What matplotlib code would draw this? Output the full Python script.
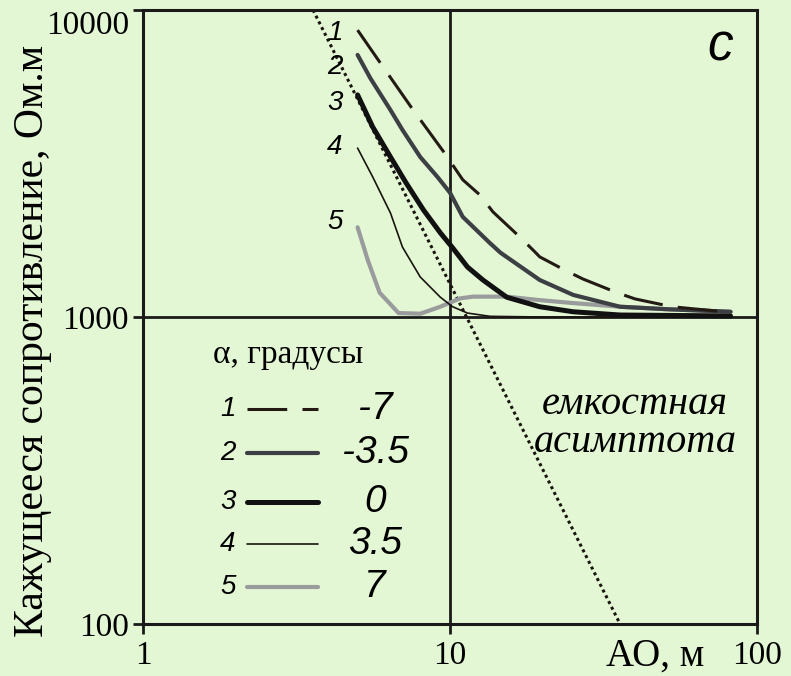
import matplotlib
matplotlib.use("Agg")
import matplotlib.pyplot as plt

# кривые кажущегося сопротивления для разных углов alpha
ao_1 = [5.0, 5.9, 7.5, 9.6, 11.0, 12.5, 13.8, 16.9, 18.9, 19.6, 23.7, 27.1, 35.0, 40.1, 52.9, 82]
rho_1 = [8600, 6770, 4800, 3420, 2800, 2500, 2200, 1820, 1630, 1570, 1420, 1330, 1200, 1145, 1080, 1035]

ao_2 = [5.0, 5.5, 6.4, 7.0, 8.0, 9.1, 10.0, 11.0, 13.5, 14.6, 19.6, 25.2, 35.8, 50.9, 82]
rho_2 = [7140, 6000, 4720, 4070, 3320, 2860, 2540, 2120, 1740, 1620, 1320, 1180, 1080, 1060, 1040]

ao_3 = [5.0, 5.6, 6.4, 7.2, 8.2, 9.3, 10.2, 11.4, 12.8, 15.3, 19.6, 25.2, 35.8, 82]
rho_3 = [5290, 4160, 3320, 2730, 2230, 1880, 1680, 1455, 1320, 1160, 1080, 1040, 1015, 1008]

ao_4 = [5.0, 5.6, 6.4, 7.0, 8.0, 9.3, 10.2, 11.4, 13.5, 20, 82]
rho_4 = [3550, 2860, 2180, 1690, 1350, 1160, 1080, 1030, 1005, 1000, 1000]

ao_5 = [5.0, 5.4, 5.9, 6.8, 8.0, 9.3, 10.8, 11.9, 15.3, 19.6, 25.2, 35.8, 50.9, 82]
rho_5 = [1960, 1530, 1200, 1030, 1025, 1080, 1150, 1165, 1165, 1135, 1110, 1080, 1060, 1040]

# емкостная асимптота (прямая в двойном логарифмическом масштабе)
asym_ao = [3.58, 35.8]
asym_rho = [10000, 100]

curve_ids = ["1", "2", "3", "4", "5"]
alpha_labels = ["-7", "-3.5", "0", "3.5", "7"]

x_ticks = [1, 10, 100]
y_ticks = [100, 1000, 10000]

bg = "#e4f7d4"
serif = ["Liberation Serif", "DejaVu Serif"]
sans = ["Liberation Sans", "DejaVu Sans"]

styles = [
    dict(color="#231a14", lw=2.2, dashes=(13, 5)),
    dict(color="#3c4044", lw=3.0),
    dict(color="#111111", lw=3.6),
    dict(color="#1a1410", lw=1.2),
    dict(color="#999b9d", lw=3.0),
]

fig = plt.figure(figsize=(7.91, 6.76), dpi=100, facecolor=bg)
ax = fig.add_axes([143 / 791, 52 / 676, 614 / 791, 614 / 676])
ax.set_facecolor(bg)
ax.set_xscale("log")
ax.set_yscale("log")
ax.set_xlim(1, 100)
ax.set_ylim(100, 10000)

# опорные линии x=10 и rho=1000
ax.axvline(10, color="#1a1a1a", lw=2.0, zorder=1)
ax.axhline(1000, color="#1a1a1a", lw=2.0, zorder=1)

ax.plot(asym_ao, asym_rho, color="#1a1410", lw=2.2, linestyle=(0, (1, 1.1)), zorder=2)

series = [(ao_1, rho_1), (ao_2, rho_2), (ao_3, rho_3), (ao_4, rho_4), (ao_5, rho_5)]
for (xs, ys), st in zip(series[::-1], styles[::-1]):
    ax.plot(xs, ys, solid_capstyle="round", zorder=3, **st)

# номера кривых у начала
label_y = [0.9625, 0.907, 0.8485, 0.777, 0.655]
for cid, yy in zip(curve_ids, label_y):
    ax.text(0.3127, yy, cid, transform=ax.transAxes, ha="center", va="center",
            fontsize=20, style="italic", family=sans)

ax.text(0.94, 0.94, "c", transform=ax.transAxes, ha="center", va="center",
        fontsize=37, style="italic", family=sans)

ax.text(0.801, 0.357, "емкостная", transform=ax.transAxes, ha="center", va="center",
        fontsize=29, style="italic", family=serif)
ax.text(0.801, 0.296, "асимптота", transform=ax.transAxes, ha="center", va="center",
        fontsize=29, style="italic", family=serif)

# легенда
ax.text(0.236, 0.438, "α, градусы", transform=ax.transAxes, ha="center", va="center",
        fontsize=24, family=serif)
row_y = [0.350, 0.2785, 0.199, 0.130, 0.060]
for cid, lab, yy, st in zip(curve_ids, alpha_labels, row_y, styles):
    ax.text(0.138, yy, cid, transform=ax.transAxes, ha="center", va="center",
            fontsize=20, style="italic", family=sans)
    ax.plot([0.169, 0.285], [yy, yy], transform=ax.transAxes,
            solid_capstyle="round", dash_capstyle="butt", **st)
    ax.text(0.378, yy, lab, transform=ax.transAxes, ha="center", va="center",
            fontsize=28, style="italic", family=sans)

for side in ["left", "bottom", "right", "top"]:
    ax.spines[side].set_linewidth(2.2)
    ax.spines[side].set_color("#1a1a1a")

ax.set_xticks(x_ticks)
ax.set_xticklabels([str(v) for v in x_ticks], family=serif, fontsize=24)
ax.set_yticks(y_ticks)
ax.set_yticklabels([str(v) for v in y_ticks], family=serif, fontsize=24)
ax.minorticks_off()
ax.tick_params(axis="both", direction="out", length=7, width=2.0, color="#1a1a1a", pad=3)
ax.tick_params(axis="x", pad=5)
ax.get_yticklabels()[-1].set_verticalalignment("top")

ax.set_ylabel("Кажущееся сопротивление, Ом.м", family=serif, fontsize=30)
ax.yaxis.set_label_coords(-0.148, 0.461)
ax.text(0.834, -0.053, "АО, м", transform=ax.transAxes, ha="center", va="center",
        fontsize=28, family=serif)

fig.savefig("out.png", dpi=100, facecolor=bg)
